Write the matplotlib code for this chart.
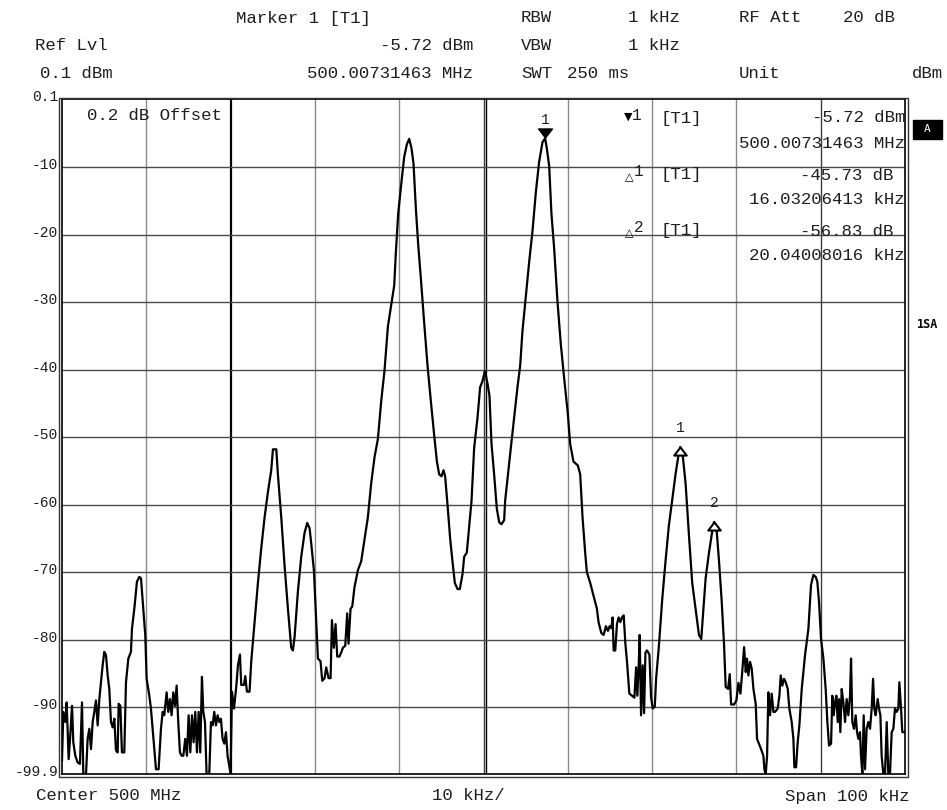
import matplotlib
matplotlib.use("Agg")
import matplotlib.pyplot as plt
from matplotlib.patches import Rectangle
from matplotlib.path import Path
import matplotlib.transforms as mtransforms

# ---------------- data (frequency offset from 500 MHz in kHz, level in dBm) ----
trace_seg1 = [(-50.00,-97.9),(-49.84,-90.7),(-49.60,-92.2),(-49.45,-89.3),(-49.21,-97.7),(-49.01,-94.0),
 (-48.81,-89.8),(-48.66,-95.2),(-48.42,-97.2),(-48.14,-98.2),(-47.87,-98.4),(-47.63,-89.3),(-47.47,-99.9),
 (-47.15,-99.9),(-46.96,-94.7),(-46.76,-93.2),(-46.56,-96.2),(-46.36,-92.2),(-46.17,-90.7),(-45.97,-89.0),
 (-45.77,-92.7),(-45.57,-88.8),(-45.38,-86.3),(-45.18,-83.8),(-44.98,-81.8),(-44.78,-82.3),(-44.58,-85.3),
 (-44.39,-87.3),(-44.19,-92.2),(-43.99,-93.0),(-43.79,-91.7),(-43.60,-96.4),(-43.40,-96.7),(-43.28,-89.5),
 (-43.08,-89.8),(-42.89,-96.7),(-42.61,-96.7),(-42.41,-86.3),(-42.13,-82.8),(-41.82,-81.8),(-41.70,-78.4),
 (-41.42,-75.4),(-41.11,-71.4),(-40.83,-70.7),(-40.63,-70.9),(-40.36,-75.4),(-40.12,-79.4),(-39.96,-85.8),
 (-39.64,-88.3),(-39.45,-90.2),(-39.25,-93.2),(-39.05,-96.2),(-38.85,-99.2),(-38.54,-99.2),(-38.26,-93.2),
 (-38.06,-90.7),(-37.87,-91.2),(-37.59,-87.8),(-37.39,-90.7),(-37.19,-88.8),(-37.00,-91.2),(-36.80,-87.8),
 (-36.60,-89.8),(-36.40,-86.8),(-36.21,-92.2),(-36.01,-96.7),(-35.81,-97.2),(-35.61,-97.2),(-35.38,-94.7),
 (-35.18,-97.2),(-34.98,-91.2),(-34.78,-96.7),(-34.58,-91.2),(-34.39,-95.2),(-34.19,-90.7),(-33.99,-96.7),
 (-33.79,-90.7),(-33.60,-96.7),(-33.40,-85.5),(-33.24,-90.7),(-33.04,-92.2),(-32.85,-99.9),(-32.53,-99.9),
 (-32.33,-92.2),(-32.13,-92.7),(-31.94,-90.7),(-31.74,-92.7),(-31.54,-91.2),(-31.34,-92.2),(-31.15,-91.7),
 (-30.95,-94.7),(-30.75,-95.4),(-30.55,-93.7),(-30.36,-97.2),(-30.16,-98.7)]

trace_seg2 = [(-30.00,-99.9),(-29.84,-87.7),(-29.60,-90.2),(-29.33,-87.0),(-29.13,-83.8),(-28.89,-82.2),
 (-28.74,-86.7),(-28.42,-86.7),(-28.26,-85.4),(-28.06,-87.7),(-27.75,-87.7),(-27.55,-83.2),(-27.15,-77.4),
 (-26.76,-71.6),(-26.36,-66.4),(-25.97,-61.9),(-25.57,-58.1),(-25.18,-54.9),(-24.98,-51.8),(-24.58,-51.8),
 (-24.39,-55.5),(-23.99,-61.9),(-23.60,-69.0),(-23.20,-75.4),(-22.81,-81.2),(-22.61,-81.6),(-22.41,-79.6),
 (-22.02,-72.9),(-21.62,-67.7),(-21.23,-64.2),(-20.91,-62.7),(-20.63,-63.5),(-20.43,-65.8),(-20.12,-69.7),
 (-19.84,-77.4),(-19.64,-82.8),(-19.33,-83.2),(-19.13,-86.1),(-18.85,-85.7),(-18.66,-84.1),(-18.38,-85.7),
 (-18.14,-85.7),(-17.98,-77.1),(-17.75,-81.2),(-17.55,-77.7),(-17.35,-82.5),(-17.08,-82.5),(-16.88,-81.9),
 (-16.68,-81.2),(-16.40,-80.9),(-16.17,-76.1),(-16.01,-80.6),(-15.77,-75.4),(-15.57,-75.1),(-15.30,-72.2),
 (-14.90,-69.7),(-14.51,-68.4),(-14.11,-65.1),(-13.72,-61.9),(-13.32,-56.8),(-12.92,-52.9),(-12.53,-50.3),
 (-12.13,-44.6),(-11.74,-40.1),(-11.34,-33.6)]

trace_seg3 = [(-10.59,-27.5),(-10.40,-22.7),(-10.12,-16.9),(-9.80,-13.0),(-9.41,-8.5),(-9.09,-6.6),
 (-8.81,-5.8),(-8.54,-7.2),(-8.30,-9.5),(-8.02,-16.2),(-7.75,-21.4),(-7.43,-26.5),(-7.04,-33.0),(-6.64,-39.4),
 (-6.25,-44.6),(-5.85,-49.7),(-5.53,-53.6),(-5.26,-55.5),(-4.98,-55.8),(-4.74,-54.9),(-4.55,-55.8),
 (-4.27,-60.0),(-3.95,-65.1),(-3.68,-68.4),(-3.40,-71.6),(-3.08,-72.5),(-2.81,-72.5),(-2.49,-70.3),
 (-2.29,-67.7),(-1.98,-67.1),(-1.70,-63.2),(-1.42,-59.4),(-1.11,-51.6),(-0.71,-47.1),(-0.40,-42.6),
 (-0.12,-41.7),(0.16,-40.2),(0.47,-42.0),(0.71,-43.9),(0.95,-51.0),(1.26,-55.5),(1.58,-60.6),(1.86,-62.6),
 (2.13,-62.9),(2.45,-62.3),(2.57,-59.4),(2.85,-56.1),(3.24,-51.6),(3.64,-47.1),(4.03,-42.6),(4.35,-39.4),
 (4.62,-34.3),(5.02,-29.1),(5.42,-24.0),(5.81,-19.5),(6.21,-13.7),(6.60,-9.2),(7.00,-6.3),(7.31,-5.72),
 (7.51,-7.2),(7.79,-9.8),(8.06,-16.9),(8.38,-22.0),(8.77,-29.8),(9.17,-36.2),(9.57,-41.3)]

trace_seg4 = [(10.00,-46.5),(10.28,-51.0),(10.67,-53.6),(11.19,-54.2),(11.47,-55.5),(11.75,-61.9),
 (12.06,-67.1),(12.26,-70.0),(12.66,-71.6),(13.06,-73.5),(13.45,-75.4),(13.65,-77.4),(13.97,-79.0),
 (14.25,-79.3),(14.52,-78.0),(14.76,-78.7),(14.96,-78.0),(15.16,-78.3),(15.32,-76.7),(15.44,-81.6),
 (15.63,-81.6),(15.83,-77.7),(16.03,-76.7),(16.23,-77.4),(16.43,-76.7),(16.63,-76.4),(16.83,-80.6),
 (17.02,-83.2),(17.30,-88.0),(17.62,-88.3),(17.90,-88.6),(18.10,-84.1),(18.25,-88.3),(18.41,-83.8),
 (18.53,-79.3),(18.69,-91.2),(18.89,-83.8),(19.05,-90.9),(19.21,-81.9),(19.40,-81.6),(19.68,-82.2),
 (19.88,-88.6),(20.08,-90.2),(20.32,-89.9),(20.48,-85.7),(20.79,-81.2),(21.19,-74.2),(21.59,-68.4),
 (21.98,-63.2),(22.38,-59.4),(22.78,-55.5),(23.10,-52.9),(23.34,-51.45),(23.65,-52.9),(23.97,-56.8),
 (24.37,-64.5),(24.76,-71.6),(25.16,-75.4),(25.56,-79.3),(25.83,-79.9),(26.07,-75.8),(26.35,-70.9),
 (26.75,-67.1),(27.14,-63.9),(27.35,-62.55),(27.62,-63.2),(27.94,-68.4),(28.25,-74.2),(28.53,-80.6),
 (28.73,-87.0),(29.01,-87.3),(29.21,-85.1),(29.37,-89.6),(29.72,-89.6),(30.00,-89.0),(30.24,-86.4),
 (30.48,-88.0),(30.71,-84.5)]

trace_seg5 = [(30.91,-81.1),(31.11,-84.8),(31.26,-82.8),(31.42,-85.3),(31.62,-83.3),(31.82,-84.3),
 (32.02,-87.3),(32.29,-89.5),(32.45,-94.7),(32.61,-95.2),(32.92,-96.2),(33.20,-97.2),(33.32,-99.2),
 (33.48,-99.9),(33.64,-97.2),(33.79,-87.8),(33.99,-91.2),(34.19,-88.0),(34.39,-90.7),(34.58,-90.7),
 (34.90,-90.2),(35.10,-88.3),(35.26,-85.3),(35.45,-86.8),(35.65,-85.8),(35.85,-86.3),(36.09,-87.3),
 (36.28,-90.2),(36.56,-92.2),(36.76,-94.7),(36.88,-98.9),(37.08,-98.9),(37.27,-95.2),(37.47,-92.7),
 (37.75,-87.3),(38.14,-82.3),(38.54,-78.4),(38.85,-71.9),(39.13,-70.4),(39.41,-70.7),(39.60,-71.4),
 (39.80,-74.4),(40.04,-79.9),(40.32,-82.8),(40.59,-87.3),(40.79,-92.2),(40.99,-95.7),(41.23,-95.4),
 (41.38,-88.3),(41.54,-91.2),(41.70,-89.3),(41.86,-88.3),(42.02,-92.2),(42.17,-88.8),(42.33,-93.7),
 (42.49,-87.3),(42.69,-89.3),(42.89,-92.2),(43.08,-88.8),(43.28,-91.2),(43.48,-88.3),(43.60,-82.8),
 (43.75,-92.2),(43.95,-93.2),(44.15,-91.2),(44.31,-93.7),(44.47,-94.7),(44.66,-93.7),(44.78,-97.2),
 (44.94,-99.9),(45.10,-91.2),(45.26,-99.2),(45.45,-93.2),(45.65,-92.2),(45.85,-93.2),(46.05,-90.2),
 (46.21,-85.8),(46.36,-90.2),(46.52,-91.2),(46.76,-88.8),(46.92,-90.2),(47.08,-91.2),(47.23,-97.2),
 (47.43,-99.9),(47.63,-99.9),(47.83,-92.2),(48.02,-99.9),(48.22,-99.9),(48.42,-93.7),(48.62,-93.2),
 (48.81,-90.2),(49.01,-90.7),(49.21,-90.2),(49.33,-86.3),(49.53,-90.2),(49.68,-93.7),(49.92,-93.7)]

ref_marker = (7.31, -5.72)
delta_markers = [(23.34, -51.45, "1"), (27.35, -62.55, "2")]

y_tick_values = [0.1, -10, -20, -30, -40, -50, -60, -70, -80, -90, -99.9]
y_tick_labels = ["0.1", "-10", "-20", "-30", "-40", "-50", "-60", "-70", "-80", "-90", "-99.9"]
x_grid = [-40, -30, -20, -10, 0, 10, 20, 30, 40]

# ---------------- figure ----------------
W, H = 947, 810
fig = plt.figure(figsize=(W / 100, H / 100), dpi=100)
fig.patch.set_facecolor("white")
MONO = "Liberation Mono"
TXT = "#1e1e1e"

X0, X1, Y0, Y1 = 62, 905, 99, 774
ax = fig.add_axes([X0 / W, 1 - Y1 / H, (X1 - X0) / W, (Y1 - Y0) / H])
ax.set_xlim(-50, 50)
ax.set_ylim(-99.9, 0.1)
ax.set_xticks([])
ax.set_yticks([])
for s in ax.spines.values():
    s.set_linewidth(1.2)
    s.set_color("black")

for v in x_grid:
    col = "black" if v == -30 else ("#3c3c3c" if v in (0, 40) else "#8a8a8a")
    lw = 1.6 if v == -30 else 1.0
    ax.axvline(v, color=col, lw=lw, zorder=1)
ax.axvline(0.28, color="black", lw=1.0, zorder=1)
for h in y_tick_values[1:-1]:
    ax.axhline(h, color="#4a4a4a", lw=1.0, zorder=1)

# outer double border
fig.add_artist(Rectangle(((X0 - 3) / W, 1 - (Y1 + 3) / H), (X1 - X0 + 6) / W, (Y1 - Y0 + 4) / H,
                         transform=fig.transFigure, fill=False, lw=1.0, ec="#333333"))

# trace
pts = trace_seg1 + trace_seg2 + trace_seg3 + trace_seg4 + trace_seg5
fx = [p[0] for p in pts]
fy = [p[1] for p in pts]
ax.plot(fx, fy, color="black", lw=1.6, zorder=3, solid_joinstyle="round")

# markers
tri_down = Path([(-1, 0.65), (1, 0.65), (0, -0.65), (-1, 0.65)], closed=True)
tri_up = Path([(-1, -0.65), (1, -0.65), (0, 0.65), (-1, -0.65)], closed=True)
off_dn = mtransforms.offset_copy(ax.transData, fig=fig, x=0, y=5, units="dots")
ax.plot([ref_marker[0]], [ref_marker[1]], marker=tri_down, ms=10, color="black",
        transform=off_dn, zorder=5, clip_on=False)
ax.annotate("1", xy=ref_marker, xytext=(0, 18), textcoords="offset pixels", ha="center",
            va="center", fontsize=10.5, family=MONO, color=TXT, annotation_clip=False)
off_up = mtransforms.offset_copy(ax.transData, fig=fig, x=0, y=-4, units="dots")
for f, lv, lab in delta_markers:
    ax.plot([f], [lv], marker=tri_up, ms=9, mfc="white", mec="black", mew=1.5,
            transform=off_up, zorder=5)
    ax.annotate(lab, xy=(f, lv), xytext=(0, 19), textcoords="offset pixels", ha="center",
                va="center", fontsize=10.5, family=MONO, color=TXT)


def ftext(x, y, s, ha="left", size=12.5, **kw):
    kw.setdefault("color", TXT)
    kw.setdefault("family", MONO)
    fig.text(x / W, 1 - y / H, s, ha=ha, va="center", fontsize=size, **kw)


# y tick labels
for v, lab in zip(y_tick_values, y_tick_labels):
    ypix = Y0 + (0.1 - v) / 100.0 * (Y1 - Y0)
    ftext(58, ypix - 2, lab, ha="right", size=10.5)

# header
ftext(236, 18, "Marker 1 [T1]")
ftext(521, 18, "RBW")
ftext(680, 18, "1 kHz", ha="right")
ftext(739, 18, "RF Att")
ftext(895, 18, "20 dB", ha="right")
ftext(35, 46, "Ref Lvl")
ftext(473, 46, "-5.72 dBm", ha="right")
ftext(521, 46, "VBW")
ftext(680, 46, "1 kHz", ha="right")
ftext(40, 73, "0.1 dBm")
ftext(473, 73, "500.00731463 MHz", ha="right")
ftext(521, 73, "SWT")
ftext(567, 73, "250 ms")
ftext(739, 73, "Unit")
ftext(943, 73, "dBm", ha="right")

# in-plot texts
ftext(87, 115, "0.2 dB Offset")
ftext(624, 117, "\u25BC", size=8, family="DejaVu Sans", color="black")
ftext(632, 115, "1", size=11.5)
ftext(660, 118, "[T1]")
ftext(905, 118, "-5.72 dBm", ha="right")
ftext(905, 143, "500.00731463 MHz", ha="right")
ftext(625, 177, "\u25B3", size=8, family="DejaVu Sans", color="black")
ftext(634, 172, "1", size=11.5)
ftext(660, 175, "[T1]")
ftext(893, 175, "-45.73 dB", ha="right")
ftext(905, 200, "16.03206413 kHz", ha="right")
ftext(625, 233, "\u25B3", size=8, family="DejaVu Sans", color="black")
ftext(634, 228, "2", size=11.5)
ftext(660, 231, "[T1]")
ftext(893, 231, "-56.83 dB", ha="right")
ftext(905, 256, "20.04008016 kHz", ha="right")

# bottom
ftext(36, 796, "Center 500 MHz")
ftext(432, 796, "10 kHz/")
ftext(909, 796, "Span 100 kHz", ha="right")

# right side annotations
fig.add_artist(Rectangle((913 / W, 1 - 139 / H), 29 / W, 19 / H, transform=fig.transFigure,
                         fc="black", ec="black"))
ftext(927.5, 129, "A", ha="center", size=8, color="white", family="DejaVu Sans Mono")
ftext(928, 324, "1SA", ha="center", size=8.5, weight="bold", color="black", family="DejaVu Sans Mono")

fig.savefig("out.png", dpi=100, facecolor="white")
